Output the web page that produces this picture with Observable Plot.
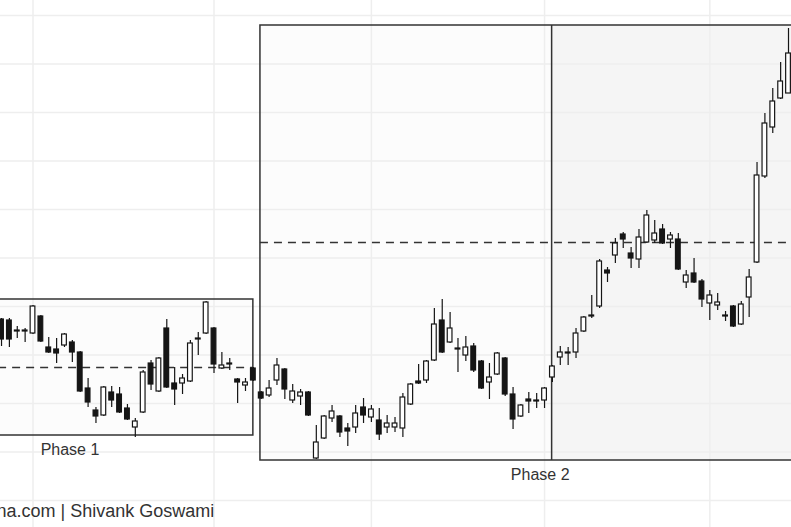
<!DOCTYPE html>
<html>
<head>
<meta charset="utf-8">
<script src="https://cdn.jsdelivr.net/npm/d3@7"></script>
<script src="https://cdn.jsdelivr.net/npm/@observablehq/plot@0.6"></script>
<style>
html, body { margin: 0; padding: 0; background: #fff; overflow: hidden; }
</style>
</head>
<body>
<div id="chart"></div>
<script>
// Candle values (price units), one per trading session
const opens = [681,680,670,670,667,684,653,651,655,658,
  648,612,590,585,608,606,592,573,588,637,
  609,672,617,617,619,662,667,672,632,637,
  621,615,632,608,605,620,631,600,604,608,
  542,562,582,584,572,573,593,583,580,573,
  573,572,596,619,620,640,680,658,652,645,
  654,639,618,626,642,606,584,601,600,600,
  623,643,648,648,669,685,694,730,745,766,
  747,741,758,760,771,761,761,718,727,719,
  697,695,685,694,676,703,738,824,873,902,907];
const highs = [682,682,674,672,695,685,663,662,667,660,
  649,622,593,614,614,613,596,582,630,640,
  643,681,633,626,660,668,699,673,648,642,
  622,622,633,609,620,642,632,616,611,609,
  575,585,595,585,577,595,602,595,592,585,
  583,607,617,636,640,692,701,688,662,664,
  657,640,637,648,643,613,596,608,607,613,
  635,654,653,672,684,705,741,733,762,768,
  753,771,790,780,776,768,767,730,742,721,
  710,707,689,695,699,731,838,887,912,938,972];
const lows = [654,653,662,658,666,658,647,637,653,638,
  608,593,577,584,593,587,580,563,587,610,
  608,612,595,606,618,645,666,627,631,630,
  597,609,619,601,603,615,601,597,595,584,
  541,561,578,563,554,567,577,578,560,567,
  568,563,595,616,617,639,647,657,628,639,
  628,611,601,625,604,571,583,587,592,592,
  618,635,635,642,668,682,692,718,737,752,
  732,732,757,757,756,752,730,712,717,693,
  680,690,679,673,675,683,737,822,867,901,907];
const closes = [661,661,669,669,694,659,648,647,666,648,
  609,598,584,613,600,588,581,579,628,616,
  642,613,611,622,657,661,698,636,635,636,
  618,618,620,602,612,635,611,609,608,585,
  558,584,589,568,569,587,585,591,566,577,
  577,603,616,617,639,676,648,672,651,653,
  630,612,623,647,606,581,595,599,599,612,
  634,648,647,667,683,684,739,727,757,761,
  742,763,785,767,757,765,731,725,718,701,
  705,698,684,674,696,723,825,877,899,919,947];

// Phase annotations (session index span, price range, reference level)
const phaseNames  = ["Phase 1", "Phase 2"];
const phaseStart  = [-14.6, 32.9];
const phaseEnd    = [32, 104];
const phaseTop    = [701, 975];
const phaseBottom = [565, 540];
const phaseLevel  = [633, 758];
const phase2Split = 69.9;

// Grid positions
const xGridSessions = [4, 27, 47, 69, 90];
const yGridPrices = [500, 548.5, 597, 645.5, 694, 742.5, 791, 839.5, 888, 936.5, 985];

const footer = "na.com | Shivank Goswami";

const candles = opens.map((o, i) => ({i, open: o, high: highs[i], low: lows[i], close: closes[i]}));
const phases = phaseNames.map((name, k) => ({
  name, start: phaseStart[k], end: phaseEnd[k], top: phaseTop[k], bottom: phaseBottom[k], level: phaseLevel[k]
}));
const p2 = phases[1];
const half = 0.3;
const ink = "#151515";

const chart = Plot.plot({
  width: 791,
  height: 527,
  margin: 0,
  x: {domain: [-0.13, 100.38], axis: null},
  y: {domain: [473, 1000], axis: null},
  style: {background: "#fff", fontFamily: "'Liberation Sans', Arial, sans-serif"},
  marks: [
    Plot.rect(phases, {x1: "start", x2: "end", y1: "bottom", y2: "top", fill: "#fcfcfc"}),
    Plot.rect([p2], {x1: () => phase2Split, x2: "end", y1: "bottom", y2: "top", fill: "#f5f5f5"}),
    Plot.ruleX(xGridSessions, {stroke: "#eeeeee", strokeWidth: 1.5}),
    Plot.ruleY(yGridPrices, {stroke: "#eeeeee", strokeWidth: 1.5}),
    Plot.rect(phases, {x1: "start", x2: "end", y1: "bottom", y2: "top", fill: "none", stroke: "#333", strokeWidth: 1.5}),
    Plot.ruleX([p2], {x: () => phase2Split, y1: "bottom", y2: "top", stroke: "#333", strokeWidth: 1.5}),
    Plot.ruleY(phases, {y: "level", x1: "start", x2: "end", stroke: "#333", strokeWidth: 1.4, strokeDasharray: "8,6"}),
    Plot.ruleX(candles, {x: "i", y1: "low", y2: "high", stroke: ink, strokeWidth: 1.2}),
    Plot.rect(candles.filter(d => d.close >= d.open), {
      x1: d => d.i - half, x2: d => d.i + half, y1: "open", y2: "close",
      fill: "#fff", stroke: ink, strokeWidth: 1.2
    }),
    Plot.rect(candles.filter(d => d.close < d.open), {
      x1: d => d.i - half, x2: d => d.i + half, y1: "open", y2: "close",
      fill: ink, stroke: ink, strokeWidth: 1.2
    }),
    Plot.text(phases, {x: d => (d.start + d.end) / 2, y: "bottom", dy: 14, text: "name", fontSize: 16, fill: "#333"}),
    Plot.text([footer], {frameAnchor: "bottom-left", textAnchor: "start", lineAnchor: "middle", dx: -4, dy: -16, text: d => d, fontSize: 18, fill: "#333"})
  ]
});
document.getElementById("chart").appendChild(chart);
</script>
</body>
</html>
